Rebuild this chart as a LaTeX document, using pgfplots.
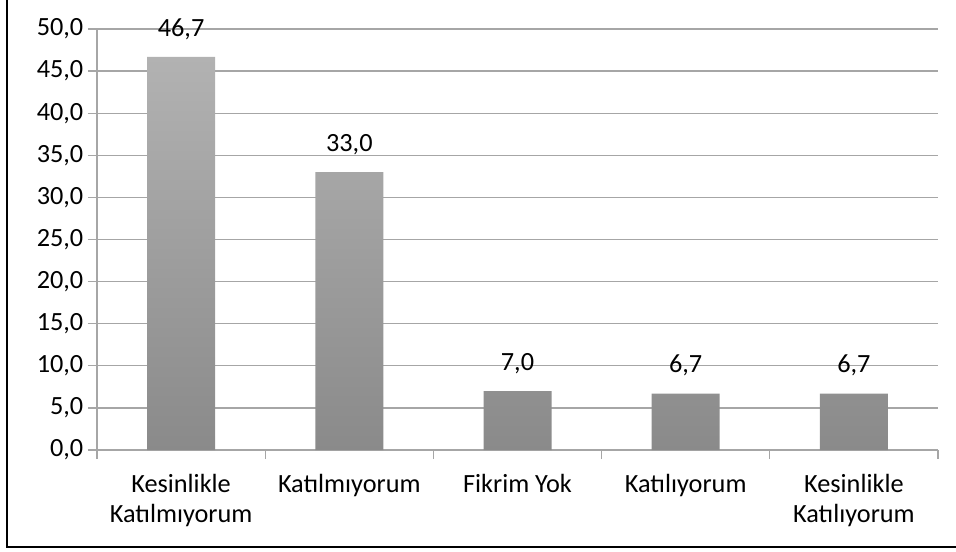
\documentclass[border=0pt]{standalone}
\usepackage{pgfplots}
\pgfplotsset{compat=1.18}
\usepackage{fontspec}
\setmainfont{Carlito}
\definecolor{bartop}{HTML}{B2B2B2}
\definecolor{barbot}{HTML}{8A8A8A}
\definecolor{gridc}{HTML}{A6A6A6}
\begin{document}
\begin{tikzpicture}
\useasboundingbox (0,0) rectangle (717pt,413.25pt);
\draw[black, line width=1.1pt] (5.25pt,430pt) -- (5.25pt,3pt) -- (730pt,3pt);
\begin{axis}[
  at={(72.75pt,75.75pt)}, anchor=south west,
  width=630.75pt, height=315.75pt, scale only axis,
  xmin=-0.5, xmax=4.5, ymin=0, ymax=50,
  axis x line*=bottom, axis y line*=left,
  axis line style={gridc, line width=1pt, -},
  ymajorgrids, grid style={gridc, line width=1pt},
  tick style={gridc, line width=1pt}, tick align=outside,
  major tick length=6.75pt,
  ytick={0,5,...,50},
  yticklabel style={font=\fontsize{19.7}{22}\selectfont, text=black,
    /pgf/number format/.cd, fixed, fixed zerofill, precision=1, use comma, assume math mode=true},
  xtick={-0.5,0.5,...,4.5}, xticklabels={},
  extra x ticks={0,1,2,3,4},
  extra x tick labels={Kesinlikle\\Katılmıyorum, Katılmıyorum, Fikrim Yok, Katılıyorum, Kesinlikle\\Katılıyorum},
  extra x tick style={major tick length=0pt,
    tick label style={font=\fontsize{19.7}{23}\selectfont, align=center, text=black, yshift=-14.5pt}},
]
\addplot[ybar, bar width=51pt, draw=none, top color=bartop, bottom color=barbot,
  point meta=y,
  nodes near coords={\pgfmathprintnumber[fixed,fixed zerofill,precision=1,use comma,assume math mode=true]{\pgfplotspointmeta}},
  nodes near coords style={font=\fontsize{19.7}{22}\selectfont, text=black, anchor=base, yshift=15.5pt}]
  coordinates {(0,46.7) (1,33.0) (2,7.0) (3,6.7) (4,6.7)};
\end{axis}
\end{tikzpicture}
\end{document}
